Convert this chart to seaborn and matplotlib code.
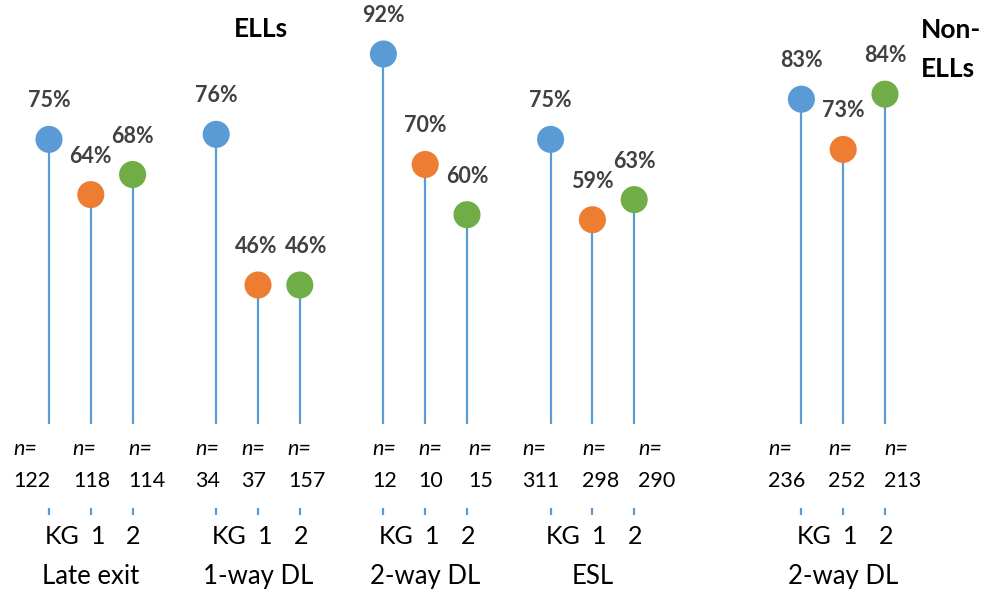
import matplotlib
matplotlib.use("Agg")
import matplotlib.pyplot as plt
import pandas as pd
import seaborn as sns

# ---- data -------------------------------------------------------------
grades = ["KG", "1", "2"]
programs = ["Late exit", "1-way DL", "2-way DL", "ESL", "2-way DL"]
populations = ["ELLs", "ELLs", "ELLs", "ELLs", "Non-ELLs"]

pct_late_exit = [75, 64, 68]
pct_one_way_dl = [76, 46, 46]
pct_two_way_dl = [92, 70, 60]
pct_esl = [75, 59, 63]
pct_non_ell_two_way_dl = [83, 73, 84]

n_late_exit = [122, 118, 114]
n_one_way_dl = [34, 37, 157]
n_two_way_dl = [12, 10, 15]
n_esl = [311, 298, 290]
n_non_ell_two_way_dl = [236, 252, 213]

# ---- layout -----------------------------------------------------------
W, H, DPI = 992, 592, 100
group_start = [0, 4, 8, 12, 18]          # category slot of each program's KG
stem_floor = 18.3                         # value where the stems start
n_label_dx = [-36, -18, -4, -21, -17, -12, -11, -7, 1,
              -28, -10, 4, -33, -15, -1]  # pixel nudges of the n= labels
value_label_dx = [0, 0, 0, 0, -2, 6, 0, 0, 0, 0, 0, 0, 0, 0, 0]
grade_label_dx = [13, 7, 1]

pcts = [pct_late_exit, pct_one_way_dl, pct_two_way_dl, pct_esl, pct_non_ell_two_way_dl]
ns = [n_late_exit, n_one_way_dl, n_two_way_dl, n_esl, n_non_ell_two_way_dl]

rows = []
for g, (prog, vals, counts) in enumerate(zip(programs, pcts, ns)):
    for k, grade in enumerate(grades):
        rows.append({"slot": group_start[g] + k, "program": prog, "grade": grade,
                     "pct": vals[k], "n": counts[k]})
df = pd.DataFrame(rows)

palette = {"KG": "#5B9BD5", "1": "#ED7D31", "2": "#70AD47"}
stem_color = "#5B9BD5"
label_gray = "#404040"

sns.set_theme(style="white")
plt.rcParams["font.family"] = ["Lato", "DejaVu Sans"]

fig = plt.figure(figsize=(W / DPI, H / DPI), dpi=DPI)
ax = fig.add_axes([0, 0, 1, 1])
slot_px, px_per_pct = 41.8, 5.022
ax.set_xlim(-49 / slot_px, (W - 49) / slot_px)
ax.set_ylim(92 - (H - 54) / px_per_pct, 92 + 54 / px_per_pct)
ax.set_axis_off()

# stems
ax.vlines(df["slot"], stem_floor, df["pct"], color=stem_color, lw=1.6, zorder=1)

# lollipop heads
sns.scatterplot(data=df, x="slot", y="pct", hue="grade", palette=palette,
                s=380, linewidth=0, legend=False, ax=ax, zorder=3)

# value labels
for i, r in df.reset_index(drop=True).iterrows():
    ax.annotate(f"{r.pct}%", (r.slot, r.pct), xytext=(value_label_dx[i], 32),
                textcoords="offset pixels", ha="center", va="baseline",
                fontsize=15.5, fontweight="bold", color=label_gray)

trans = ax.get_xaxis_transform()


def fy(py):
    return 1 - py / H


for i, r in df.reset_index(drop=True).iterrows():
    dx = n_label_dx[i]
    ax.annotate("n=", (r.slot, fy(455)), xycoords=trans, xytext=(dx, 0),
                textcoords="offset pixels", ha="left", va="baseline",
                fontsize=15.5, fontstyle="italic", color="black")
    ax.annotate(f"{r.n}", (r.slot, fy(487)), xycoords=trans, xytext=(dx, 0),
                textcoords="offset pixels", ha="left", va="baseline",
                fontsize=15.5, color="black")
    # small axis tick
    ax.plot([r.slot, r.slot], [fy(508), fy(515)], transform=trans,
            color=stem_color, lw=1.6, solid_capstyle="butt")
    k = grades.index(r.grade)
    ax.annotate(r.grade, (r.slot, fy(544)), xycoords=trans,
                xytext=(grade_label_dx[k], 0), textcoords="offset pixels",
                ha="center", va="baseline", fontsize=18, color="black")

for g, prog in enumerate(programs):
    ax.text(group_start[g] + 1, fy(584), prog, transform=trans, ha="center",
            va="baseline", fontsize=18.5, color="black")

# population headers
ax.text((261 - 49) / slot_px, fy(37), "ELLs", transform=trans, ha="center",
        va="baseline", fontsize=19, fontweight="bold", color="black")
ax.text((921 - 49) / slot_px, fy(38), "Non-", transform=trans, ha="left",
        va="baseline", fontsize=19, fontweight="bold", color="black")
ax.text((921 - 49) / slot_px, fy(77), "ELLs", transform=trans, ha="left",
        va="baseline", fontsize=19, fontweight="bold", color="black")

fig.savefig("out.png", dpi=DPI)
